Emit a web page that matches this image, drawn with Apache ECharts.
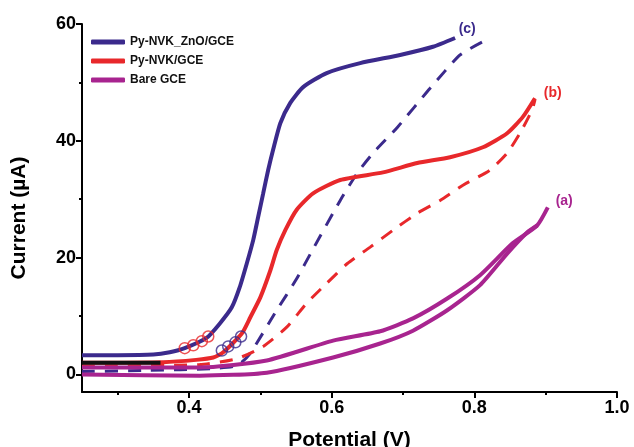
<!DOCTYPE html>
<html>
<head>
<meta charset="utf-8">
<script src="https://cdn.jsdelivr.net/npm/echarts@6/dist/echarts.min.js"></script>
<style>
  html, body { margin: 0; padding: 0; background: #fff; }
  #main { width: 634px; height: 447px; }
</style>
</head>
<body>
<div id="main"></div>
<script>
// [potential (V), current (uA)]
var znoSolid = [[0.25,3.3],[0.30,3.3],[0.35,3.4],[0.373,3.8],[0.394,4.5],[0.425,6.3],[0.443,8.7],[0.46,11.5],[0.471,14.9],[0.481,19.0],[0.49,23.0],[0.497,27.0],[0.504,31.0],[0.511,35.0],[0.518,38.5],[0.528,43.0],[0.542,46.5],[0.56,49.2],[0.593,51.6],[0.64,53.3],[0.696,54.7],[0.742,56.1],[0.773,57.6]];
var znoDashed = [[0.25,0.5],[0.345,0.7],[0.43,1.0],[0.467,1.5],[0.485,3.5],[0.523,11.0],[0.55,16.2],[0.574,21.5],[0.612,29.8],[0.636,34.5],[0.658,37.9],[0.692,42.3],[0.738,49.0],[0.78,54.7],[0.811,56.9]];
var nvkSolid = [[0.25,2.0],[0.364,2.1],[0.41,2.5],[0.434,2.9],[0.448,3.8],[0.474,7.0],[0.486,9.8],[0.50,13.2],[0.514,17.8],[0.523,21.3],[0.535,24.7],[0.551,28.2],[0.574,31.0],[0.612,33.3],[0.672,34.6],[0.72,36.2],[0.766,37.2],[0.812,38.9],[0.846,41.3],[0.868,44.1],[0.885,47.3]];
var nvkDashed = [[0.25,1.4],[0.415,1.7],[0.467,2.7],[0.504,4.8],[0.537,8.1],[0.565,12.2],[0.593,15.6],[0.622,19.0],[0.654,21.8],[0.686,24.7],[0.72,27.6],[0.752,29.8],[0.784,32.4],[0.822,35.0],[0.846,37.9],[0.864,41.3],[0.881,45.3],[0.885,47.0]];
var bareLower = [[0.25,0.0],[0.415,-0.2],[0.509,0.3],[0.602,2.9],[0.668,5.3],[0.714,7.5],[0.762,11.0],[0.808,15.3],[0.846,20.7],[0.874,24.3],[0.888,25.5]];
var bareUpper = [[0.25,1.2],[0.415,1.2],[0.509,2.4],[0.602,5.8],[0.668,7.4],[0.714,9.6],[0.762,13.0],[0.808,17.0],[0.854,22.5],[0.888,25.5],[0.903,28.6]];
var blackStub = [[0.25,2.0],[0.36,2.0]];
var redRings = [[0.394,4.5],[0.406,5.0],[0.418,5.7],[0.427,6.5]];
var blueRings = [[0.446,4.1],[0.455,4.8],[0.465,5.5],[0.473,6.5]];
var curveTags = [['(c)',0.79,59.1],['(b)',0.91,48.2],['(a)',0.926,29.7]];

var names = ['Py-NVK_ZnO/GCE', 'Py-NVK/GCE', 'Bare GCE'];
var xLabels = [0.4, 0.6, 0.8, 1.0];
var xMinor = [0.3, 0.5, 0.7, 0.9];
var yLabels = [0, 20, 40, 60];
var yMinor = [10, 30, 50];

var BLUE = '#3b2a8c', RED = '#e8282b', MAG = '#a8248f';
var FONT = '"Liberation Sans", Arial, sans-serif';

var chart = echarts.init(document.getElementById('main'));

function tag(i, color) {
  var t = curveTags[i];
  return {
    symbol: 'circle', symbolSize: 0,
    label: { show: true, position: 'inside', formatter: t[0], color: color,
      fontWeight: 'bold', fontSize: 14, fontFamily: FONT },
    data: [{ coord: [t[1], t[2]] }]
  };
}

function line(name, data, color, width, dashed) {
  return {
    name: name, type: 'line', data: data, symbol: 'none',
    smooth: 0.2,
    lineStyle: { color: color, width: width, type: dashed ? [13, 10] : 'solid' },
    itemStyle: { color: color },
    z: dashed ? 2 : 3
  };
}

function axisCommon(pos, min, max, vals, len, show) {
  return {
    type: 'value', position: pos, min: min, max: max,
    axisLine: { show: show, onZero: false, lineStyle: { color: '#000', width: 2 } },
    axisTick: { show: true, inside: false, length: len, customValues: vals,
      lineStyle: { color: '#000', width: 2 } },
    axisLabel: { show: show, customValues: vals, color: '#000', fontWeight: 'bold',
      fontSize: 18, fontFamily: FONT },
    splitLine: { show: false }
  };
}

var xMain = axisCommon('bottom', 0.25, 1.0, xLabels, 6, true);
xMain.axisLabel.margin = 7;
xMain.axisLabel.formatter = function (v) { return v.toFixed(1); };
xMain.name = 'Potential (V)';
xMain.nameLocation = 'middle';
xMain.nameGap = 38;
xMain.nameTextStyle = { color: '#000', fontWeight: 'bold', fontSize: 21, fontFamily: FONT };
var xSub = axisCommon('bottom', 0.25, 1.0, xMinor, 3, false);

var yMain = axisCommon('left', -3, 60, yLabels, 6, true);
yMain.axisLabel.margin = 6;
yMain.name = 'Current (\u00b5A)';
yMain.nameLocation = 'middle';
yMain.nameGap = 52;
yMain.nameTextStyle = { color: '#000', fontWeight: 'bold', fontSize: 21, fontFamily: FONT,
  padding: [0, 20, 0, 0] };
var ySub = axisCommon('left', -3, 60, yMinor, 3, false);

var blueLine = line(names[0], znoSolid, BLUE, 4, false);
blueLine.markPoint = tag(0, BLUE);
var redLine = line(names[1], nvkSolid, RED, 4, false);
redLine.markPoint = tag(1, RED);
var bareLine = line(names[2], bareLower, MAG, 4, false);
var bareBack = line(names[2], bareUpper, MAG, 4, false);
bareBack.markPoint = tag(2, MAG);

function rings(name, data, color) {
  return {
    name: name, type: 'scatter', data: data, symbol: 'circle', symbolSize: 11,
    itemStyle: { color: 'rgba(0,0,0,0)', borderColor: color, borderWidth: 1.5 }, z: 5
  };
}

var option = {
  backgroundColor: '#ffffff',
  animation: false,
  grid: { left: 82, right: 17, top: 24, bottom: 55, outerBoundsMode: 'none' },
  legend: {
    data: names, orient: 'vertical', left: 86, top: 31,
    icon: 'roundRect', itemWidth: 34, itemHeight: 5, itemGap: 7,
    textStyle: { color: '#111', fontWeight: 'bold', fontSize: 12, fontFamily: FONT }
  },
  xAxis: [xMain, xSub],
  yAxis: [yMain, ySub],
  series: [
    line('ZnO dashed', znoDashed, BLUE, 3, true),
    line('NVK dashed', nvkDashed, RED, 3, true),
    bareLine,
    bareBack,
    redLine,
    line('stub', blackStub, '#111', 4, false),
    blueLine,
    rings('red rings', redRings, RED),
    rings('blue rings', blueRings, BLUE)
  ]
};

chart.setOption(option);
</script>
</body>
</html>
